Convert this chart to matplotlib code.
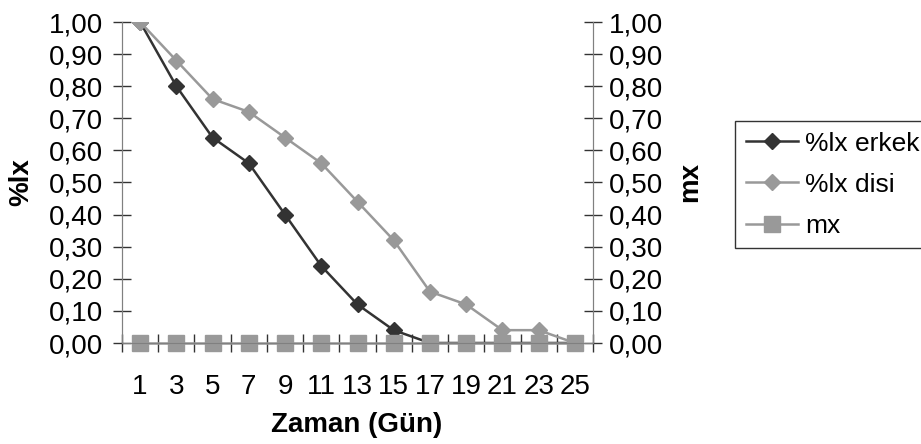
import matplotlib
matplotlib.use("Agg")
import matplotlib.pyplot as plt
from matplotlib.ticker import FuncFormatter, MultipleLocator

# ── data ────────────────────────────────────────────────────────────────
days     = [1, 3, 5, 7, 9, 11, 13, 15, 17, 19, 21, 23, 25]
lx_erkek = [1.00, 0.80, 0.64, 0.56, 0.40, 0.24, 0.12, 0.04, 0.00, 0.00, 0.00, 0.00, 0.00]
lx_disi  = [1.00, 0.88, 0.76, 0.72, 0.64, 0.56, 0.44, 0.32, 0.16, 0.12, 0.04, 0.04, 0.00]
mx       = [0.00] * 13

plt.rcParams["font.family"] = ["Liberation Sans", "DejaVu Sans"]
FS = 20
W, H = 921, 444

fig = plt.figure(figsize=(W / 100, H / 100), dpi=100)
ax = fig.add_axes([122 / W, 1 - 343 / H, (593 - 122) / W, (343 - 22) / H])
ax2 = ax.twinx()

l1, = ax.plot(days, lx_erkek, color="#333333", lw=1.8, marker="D", ms=8.5,
              mec="#333333", mfc="#333333", label="%lx erkek", zorder=3)
l2, = ax.plot(days, lx_disi, color="#999999", lw=1.8, marker="D", ms=8.5,
              mec="#999999", mfc="#999999", label="%lx disi", zorder=3)
l3, = ax.plot(days, mx, color="#999999", lw=1.8, marker="s", ms=12,
              mec="#999999", mfc="#999999", label="mx", zorder=4, clip_on=False)

comma = FuncFormatter(lambda v, p: f"{v:.2f}".replace(".", ","))
for a in (ax, ax2):
    a.set_ylim(0, 1)
    a.yaxis.set_major_locator(MultipleLocator(0.1))
    a.yaxis.set_major_formatter(comma)
    a.set_xlim(0, 26)
    for s in a.spines.values():
        s.set_color("#808080")
    a.spines["top"].set_visible(False)

ax.tick_params(axis="y", direction="inout", length=13, width=1, color="#333333",
               labelsize=FS, pad=7)
ax2.tick_params(axis="y", direction="inout", length=13, width=1, color="#333333",
                labelsize=FS, pad=5)

ax.set_xticks(days)
ax.set_xticklabels([str(d) for d in days])
ax.set_xticks(range(0, 27, 2), minor=True)
ax.tick_params(axis="x", which="major", length=0, labelsize=FS, pad=22)
ax.tick_params(axis="x", which="minor", direction="inout", length=13, width=1,
               color="#333333")

# axis titles, placed by pixel centre
fig.text(357 / W, 1 - 425 / H, "Zaman (Gün)", fontsize=FS, fontweight="bold",
         ha="center", va="center")
fig.text(21 / W, 1 - 182 / H, "%lx", fontsize=FS, fontweight="bold",
         ha="center", va="center", rotation=90)
fig.text(690 / W, 1 - 182 / H, "mx", fontsize=FS, fontweight="bold",
         ha="center", va="center", rotation=90)

leg = fig.legend(handles=[l1, l2, l3], loc="upper left",
                 bbox_to_anchor=(735 / W, 1 - 121 / H), borderaxespad=0,
                 fontsize=19, frameon=True, fancybox=False, handlelength=2.0,
                 labelspacing=0.65, borderpad=0.4, handletextpad=0.25)
leg.get_frame().set_edgecolor("black")
leg.get_frame().set_linewidth(1)

fig.savefig("out.png", dpi=100)
